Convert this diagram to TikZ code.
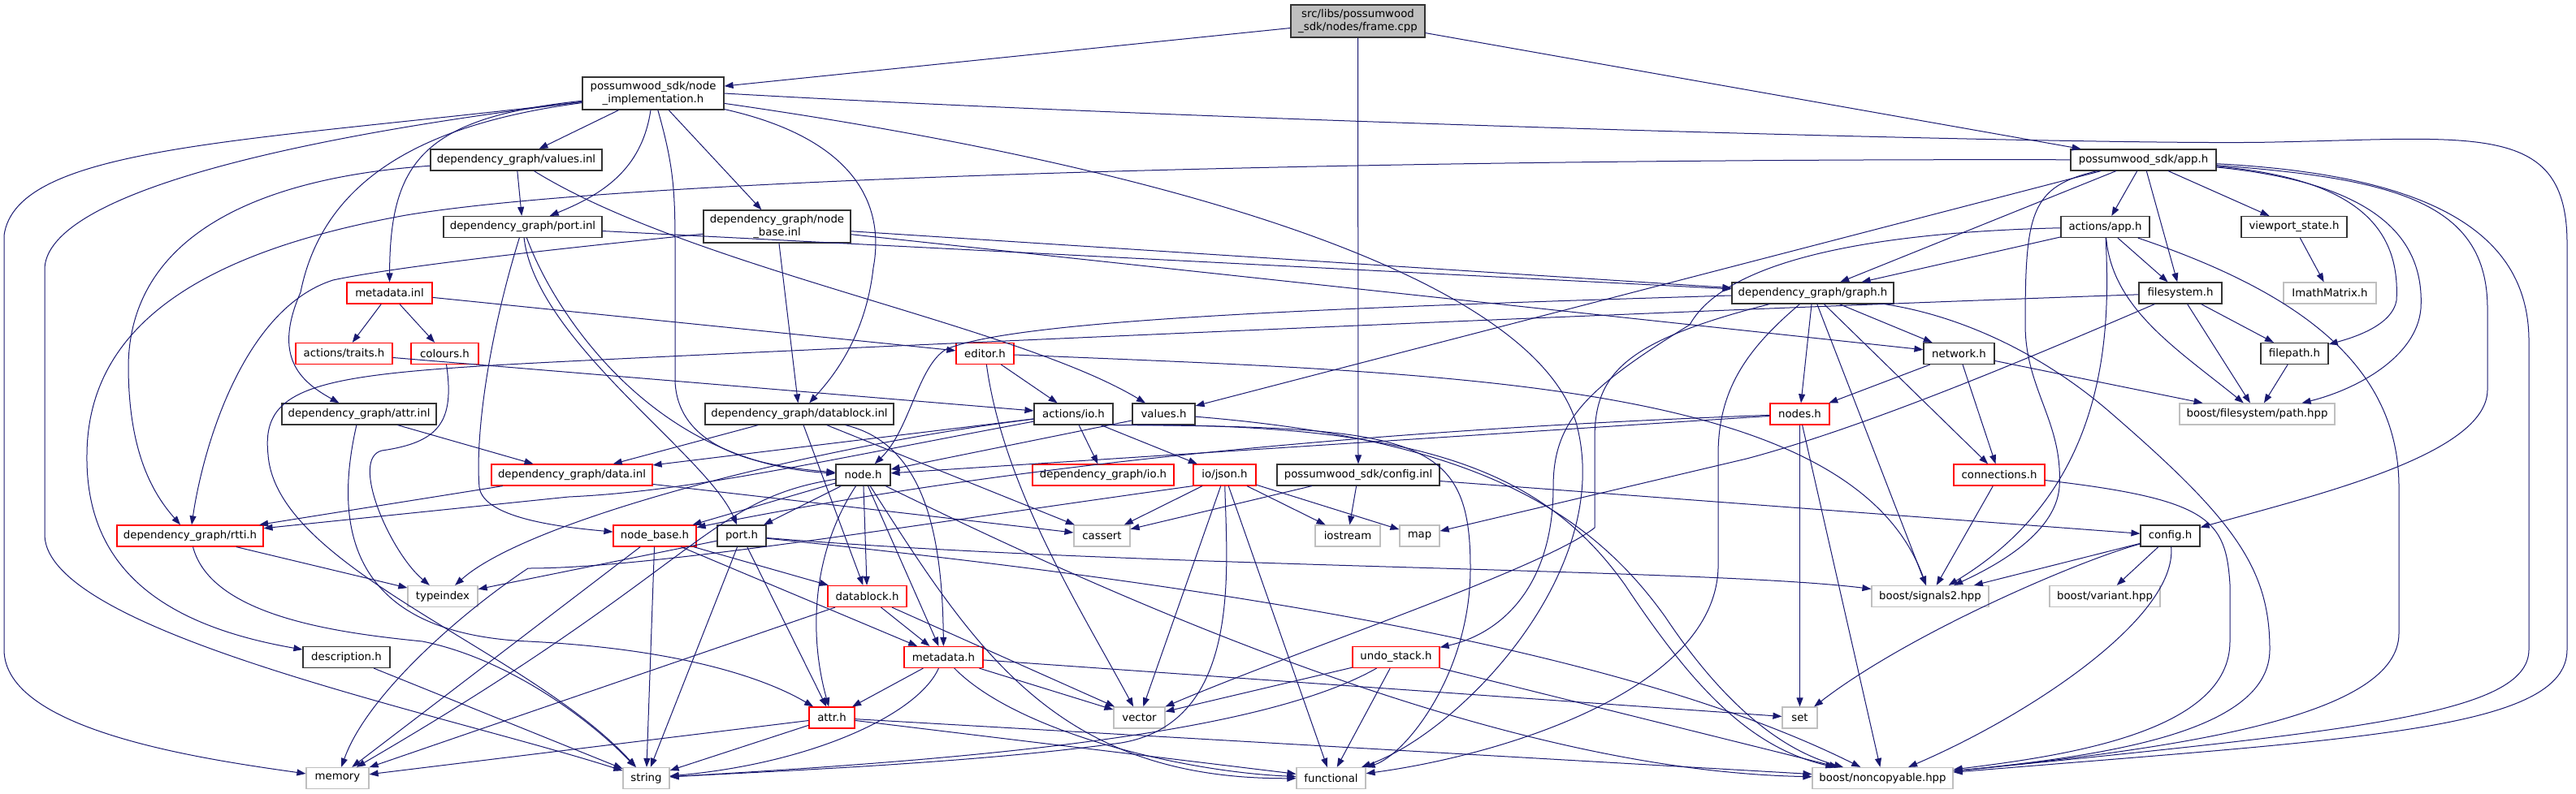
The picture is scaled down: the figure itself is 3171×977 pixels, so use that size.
\documentclass[tikz,border=0pt]{standalone}
\usepackage{fontspec}
\setmainfont{DejaVu Sans}
\usetikzlibrary{arrows.meta}
\definecolor{edgeblue}{HTML}{191970}
\definecolor{lightgrey}{HTML}{BFBFBF}

\begin{document}
\begin{tikzpicture}[x=1pt, y=-1pt,
    hdr/.style={draw=black!80, line width=1.2pt, fill=white, inner sep=0pt,
      minimum height=26pt, font=\fontsize{13.3}{15.5}\selectfont},
    two/.style={hdr, align=center, minimum height=40pt},
    trunc/.style={hdr, draw=red},
    sys/.style={hdr, draw=lightgrey},
    dep/.style={draw=edgeblue, line width=1pt, -{Triangle[length=11pt,width=8pt]}}]
  \useasboundingbox (0,0) rectangle (3171,977);

  % Source file and first level
  \node[two, fill=lightgrey, minimum width=165pt] (file) at (1671.5,26) {src/libs/possumwood\\\_sdk/nodes/frame.cpp};
  \node[two, minimum width=174pt] (impl) at (804,115) {possumwood\_sdk/node\\\_implementation.h};
  \node[hdr, minimum width=179pt] (app) at (2638.5,197) {possumwood\_sdk/app.h};
  \node[hdr, minimum width=211pt] (valinl) at (635.5,197) {dependency\_graph/values.inl};
  \node[hdr, minimum width=195pt] (portinl) at (643.5,279.5) {dependency\_graph/port.inl};
  \node[two, minimum width=181pt] (nbinl) at (956.5,279) {dependency\_graph/node\\\_base.inl};
  \node[hdr, minimum width=109pt] (actapp) at (2591.5,279.5) {actions/app.h};
  \node[hdr, minimum width=130pt] (vpstate) at (2824,279.5) {viewport\_state.h};
  \node[trunc, minimum width=105pt] (mdinl) at (479.5,361) {metadata.inl};
  \node[hdr, minimum width=199pt] (graph) at (2231.5,361) {dependency\_graph/graph.h};
  \node[hdr, minimum width=102pt] (fsys) at (2684,361) {filesystem.h};
  \node[sys, minimum width=114pt] (imath) at (2868,361) {ImathMatrix.h};
  \node[trunc, minimum width=119pt] (traits) at (423.5,435.5) {actions/traits.h};
  \node[trunc, minimum width=83pt] (colours) at (547.5,435.5) {colours.h};
  \node[trunc, minimum width=71pt] (editor) at (1212.5,435.5) {editor.h};
  \node[hdr, minimum width=87pt] (network) at (2411.5,435.5) {network.h};
  \node[hdr, minimum width=83pt] (fpath) at (2824.5,435.5) {filepath.h};

  % Middle rows
  \node[hdr, minimum width=190pt] (attrinl) at (442,510) {dependency\_graph/attr.inl};
  \node[hdr, minimum width=232pt] (dbinl) at (984,510) {dependency\_graph/datablock.inl};
  \node[hdr, minimum width=97pt] (actio) at (1321.5,510) {actions/io.h};
  \node[hdr, minimum width=77pt] (valh) at (1432.5,510) {values.h};
  \node[trunc, minimum width=73pt] (nodes) at (2215.5,510) {nodes.h};
  \node[sys, minimum width=191pt] (fspath) at (2778.5,510) {boost/filesystem/path.hpp};
  \node[trunc, minimum width=198pt] (datainl) at (704,585) {dependency\_graph/data.inl};
  \node[hdr, minimum width=67pt] (nodeh) at (1062.5,585) {node.h};
  \node[trunc, minimum width=174pt] (dgio) at (1358,585) {dependency\_graph/io.h};
  \node[trunc, minimum width=77pt] (json) at (1507.5,585) {io/json.h};
  \node[hdr, minimum width=200pt] (cfginl) at (1672,585) {possumwood\_sdk/config.inl};
  \node[trunc, minimum width=112pt] (conns) at (2461,585) {connections.h};
  \node[trunc, minimum width=180pt] (rtti) at (234,660) {dependency\_graph/rtti.h};
  \node[trunc, minimum width=102pt] (nbaseh) at (806,660) {node\_base.h};
  \node[hdr, minimum width=60pt] (porth) at (913,660) {port.h};
  \node[sys, minimum width=69pt] (cassert) at (1356.5,660) {cassert};
  \node[sys, minimum width=80pt] (iostream) at (1659,660) {iostream};
  \node[sys, minimum width=49pt] (map) at (1747.5,660) {map};
  \node[hdr, minimum width=73pt] (cfgh) at (2671.5,660) {config.h};
  \node[sys, minimum width=86pt] (typeindex) at (545,734.5) {typeindex};
  \node[trunc, minimum width=97pt] (dbh) at (1067.5,734.5) {datablock.h};
  \node[sys, minimum width=144pt] (signals) at (2376,734.5) {boost/signals2.hpp};
  \node[sys, minimum width=136pt] (variant) at (2591,734.5) {boost/variant.hpp};
  \node[hdr, minimum width=107pt] (descr) at (426.5,809.5) {description.h};
  \node[trunc, minimum width=97pt] (metah) at (1161.5,809.5) {metadata.h};
  \node[trunc, minimum width=107pt] (undo) at (1718.5,809.5) {undo\_stack.h};
  \node[trunc, minimum width=56pt] (attrh) at (1024,884) {attr.h};
  \node[sys, minimum width=63pt] (vector) at (1402.5,884) {vector};
  \node[sys, minimum width=43pt] (set) at (2215.5,884) {set};

  % System headers at the bottom
  \node[sys, minimum width=77pt] (memory) at (415.5,958.5) {memory};
  \node[sys, minimum width=57pt] (string) at (795.5,958.5) {string};
  \node[sys, minimum width=85pt] (functional) at (1638.5,958.5) {functional};
  \node[sys, minimum width=173pt] (noncopy) at (2317.5,958.5) {boost/noncopyable.hpp};

  % Straight includes
  \foreach \a/\b in {file/impl, file/cfginl, file/app, impl/valinl, impl/nbinl, valinl/portinl,
      mdinl/traits, mdinl/colours, mdinl/editor, nbinl/dbinl, nbinl/graph, nbinl/network,
      portinl/graph, app/actapp, app/vpstate, app/graph, app/fsys, app/valh, actapp/graph,
      actapp/fsys, vpstate/imath, graph/network, graph/nodes, graph/conns, graph/signals,
      network/nodes, network/conns, network/fspath, fsys/fpath, fsys/fspath, fpath/fspath,
      traits/actio, editor/actio, attrinl/datainl, dbinl/datainl, dbinl/dbh, dbinl/cassert,
      actio/datainl, actio/dgio, actio/json, valh/nodeh, nodes/nodeh, nodes/set,
      nodes/noncopy, conns/signals, datainl/rtti, datainl/cassert, nodeh/nbaseh, nodeh/porth,
      nodeh/dbh, nodeh/metah, json/cassert, json/vector, json/iostream, json/map,
      json/functional, cfginl/cassert, cfginl/iostream, cfginl/cfgh, rtti/typeindex,
      porth/typeindex, porth/attrh, porth/string, nbaseh/memory, nbaseh/string, nbaseh/dbh,
      nbaseh/metah, dbh/metah, dbh/vector, dbh/memory, cfgh/signals, cfgh/variant,
      descr/string, metah/attrh, metah/vector, metah/set, undo/vector, undo/functional,
      undo/noncopy, attrh/memory, attrh/string, attrh/functional, attrh/noncopy}
    \draw[dep] (\a) -- (\b);

  % Routed includes: node_implementation.h
  \draw[dep] (impl) .. controls (300,175) and (20,180) .. (5,290) -- (5,800) .. controls (5,900) and (250,935) .. (memory);
  \draw[dep] (impl) .. controls (350,170) and (60,240) .. (55,330) -- (55,660) .. controls (60,780) and (550,880) .. (string);
  \draw[dep] (impl) .. controls (790,210) and (740,240) .. (portinl);
  \draw[dep] (impl) .. controls (520,145) and (480,200) .. (mdinl);
  \draw[dep] (impl) .. controls (540,150) and (400,210) .. (370,360) .. controls (335,440) and (370,470) .. (attrinl);
  \draw[dep] (impl) .. controls (1050,170) and (1090,250) .. (1075,330) .. controls (1065,420) and (1020,470) .. (dbinl);
  \draw[dep] (impl) .. controls (828,200) and (831,230) .. (831,300) -- (831,470) .. controls (835,560) and (950,575) .. (nodeh);
  \draw[dep] (impl) .. controls (1400,200) and (1880,330) .. (1940,520) .. controls (1990,700) and (1800,900) .. (functional);
  \draw[dep] (impl.east) .. controls (1500,150) and (2600,180) .. (2800,175) .. controls (3050,170) and (3160,150) .. (3160,300) -- (3160,800) .. controls (3160,900) and (2900,910) .. (noncopy);

  % Routed includes: dependency_graph inl files
  \draw[dep] (valinl) .. controls (850,330) and (1250,400) .. (valh);
  \draw[dep] (valinl) .. controls (300,220) and (160,300) .. (158,450) .. controls (158,560) and (190,610) .. (rtti);
  \draw[dep] (portinl) .. controls (680,380) and (800,570) .. (nodeh);
  \draw[dep] (portinl) .. controls (660,420) and (870,560) .. (porth);
  \draw[dep] (portinl) .. controls (600,420) and (585,540) .. (590,600) .. controls (595,640) and (700,650) .. (nbaseh);
  \draw[dep] (nbinl) .. controls (650,310) and (480,330) .. (410,345) .. controls (300,380) and (250,550) .. (rtti);
  \draw[dep] (attrinl) .. controls (410,650) and (430,780) .. (650,790) .. controls (850,800) and (950,840) .. (attrh);
  \draw[dep] (dbinl) .. controls (1130,545) and (1160,640) .. (metah);

  % Routed includes: app.h and actions/app.h
  \draw[dep] (app) .. controls (1800,195) and (800,215) .. (500,265) .. controls (250,310) and (108,400) .. (107,560) .. controls (105,700) and (200,770) .. (descr);
  \draw[dep] (app) .. controls (2500,230) and (2493,260) .. (2493,400) .. controls (2493,480) and (2540,520) .. (2535,600) .. controls (2530,660) and (2450,700) .. (signals);
  \draw[dep] (app) .. controls (2900,220) and (2955,280) .. (2950,370) .. controls (2945,400) and (2900,415) .. (fpath);
  \draw[dep] (app) .. controls (2920,225) and (2985,290) .. (2980,380) .. controls (2975,440) and (2900,480) .. (fspath);
  \draw[dep] (app) .. controls (2950,220) and (3062,250) .. (3062,380) -- (3062,480) .. controls (3062,560) and (2850,610) .. (cfgh);
  \draw[dep] (app) .. controls (2980,215) and (3113,280) .. (3113,420) -- (3113,800) .. controls (3113,880) and (2900,900) .. (noncopy);
  \draw[dep] (actapp) .. controls (2350,285) and (2130,310) .. (2080,400) .. controls (1950,480) and (1912,520) .. (1912,600) .. controls (1912,720) and (1850,780) .. (undo);
  \draw[dep] (actapp) .. controls (2600,380) and (2680,430) .. (fspath);
  \draw[dep] (actapp) .. controls (2597,400) and (2600,600) .. (signals);
  \draw[dep] (actapp) .. controls (2830,360) and (2953,450) .. (2953,600) -- (2953,780) .. controls (2953,880) and (2700,920) .. (noncopy);

  % Routed includes: graph.h and filesystem.h
  \draw[dep] (graph) .. controls (1600,380) and (1250,395) .. (1165,430) .. controls (1130,450) and (1120,530) .. (nodeh);
  \draw[dep] (graph) .. controls (2000,420) and (1963,460) .. (1963,540) -- (1963,650) .. controls (1900,700) and (1600,800) .. (vector);
  \draw[dep] (graph) .. controls (2150,430) and (2115,480) .. (2115,560) -- (2115,700) .. controls (2110,850) and (1850,930) .. (functional);
  \draw[dep] (graph) .. controls (2420,390) and (2520,440) .. (2600,510) .. controls (2750,640) and (2794,700) .. (2794,800) .. controls (2794,900) and (2600,930) .. (noncopy);
  \draw[dep] (fsys) .. controls (2500,440) and (2300,525) .. (2150,565) -- (map);
  \draw[dep] (fsys) .. controls (2000,385) and (1000,430) .. (700,445) .. controls (400,460) and (320,470) .. (330,560) .. controls (340,700) and (650,800) .. (string);

  % Routed includes: the rest
  \draw[dep] (colours) .. controls (560,520) and (540,545) .. (470,555) .. controls (430,565) and (480,680) .. (typeindex);
  \draw[dep] (editor) .. controls (1235,600) and (1330,750) .. (vector);
  \draw[dep] (editor) .. controls (1800,460) and (2280,470) .. (signals);
  \draw[dep] (actio) .. controls (1000,570) and (850,605) .. (700,612) -- (rtti);
  \draw[dep] (actio) .. controls (1000,550) and (650,640) .. (typeindex);
  \draw[dep] (actio.south east) .. controls (1750,525) and (1810,540) .. (1810,700) .. controls (1810,830) and (1730,930) .. (functional);
  \draw[dep] (actio.south east) .. controls (1750,520) and (1900,580) .. (2000,720) .. controls (2080,840) and (2150,920) .. (noncopy);
  \draw[dep] (valh) .. controls (1800,540) and (1950,620) .. (2050,760) .. controls (2110,850) and (2180,920) .. (noncopy);
  \draw[dep] (nodes) .. controls (1800,525) and (1300,560) .. (nbaseh);
  \draw[dep] (rtti) .. controls (260,760) and (420,780) .. (520,790) .. controls (620,810) and (720,880) .. (string);
  \draw[dep] (nodeh) .. controls (1000,680) and (995,780) .. (attrh);
  \draw[dep] (nodeh) .. controls (870,615) and (860,700) .. (memory);
  \draw[dep] (nodeh) .. controls (1200,800) and (1300,960) .. (functional);
  \draw[dep] (nodeh) .. controls (1500,800) and (1900,950) .. (noncopy);
  \draw[dep] (json) .. controls (1510,700) and (1530,890) .. (1380,915) .. controls (1200,940) and (950,950) .. (string);
  \draw[dep] (json.south west) .. controls (1100,650) and (800,700) .. (650,700) .. controls (560,760) and (450,860) .. (memory);
  \draw[dep] (metah) .. controls (1250,900) and (1450,950) .. (functional);
  \draw[dep] (metah) .. controls (1130,880) and (1000,940) .. (string);
  \draw[dep] (undo) .. controls (1550,905) and (1200,935) .. (string);
  \draw[dep] (cfgh) .. controls (2680,760) and (2500,880) .. (noncopy);
  \draw[dep] (cfgh) .. controls (2560,690) and (2350,780) .. (set);
  \draw[dep] (conns) .. controls (2720,615) and (2740,640) .. (2745,720) -- (2745,790) .. controls (2745,900) and (2550,930) .. (noncopy);
  \draw[dep] (porth) .. controls (1400,700) and (2100,700) .. (signals);
  \draw[dep] (porth) .. controls (1500,720) and (2000,800) .. (noncopy);
\end{tikzpicture}
\end{document}
